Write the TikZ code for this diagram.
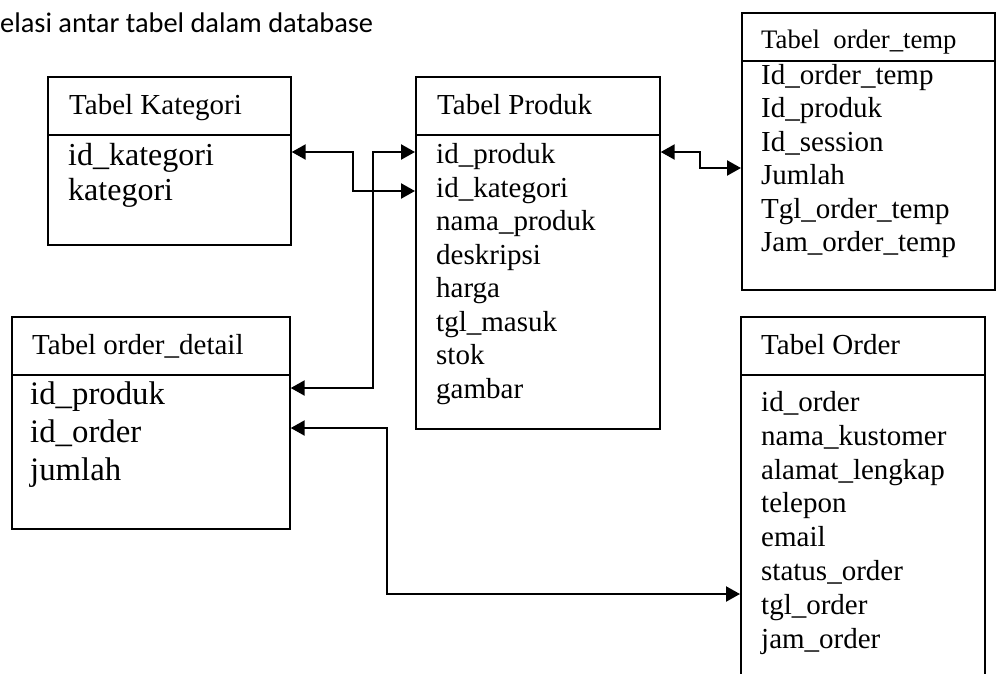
\documentclass[tikz,border=0pt]{standalone}
\usepackage{fontspec}
\setmainfont{Liberation Serif}
\newfontfamily\calibri{Carlito}
\usetikzlibrary{arrows.meta,positioning}

\tikzset{
  tabel/.style={draw=black, line width=1.7pt, anchor=north west, inner sep=0pt},
  judul/.style={anchor=base west, inner sep=0pt, font=\fontsize{29}{33}\selectfont},
  kolom/.style={anchor=base west, inner sep=0pt, font=\fontsize{29}{33}\selectfont},
  kolombesar/.style={kolom, font=\fontsize{32}{36}\selectfont},
  relasi/.style={line width=2.3pt, {Triangle[length=14pt,width=15pt]}-{Triangle[length=14pt,width=15pt]}},
}

\begin{document}
\begin{tikzpicture}[x=1pt, y=-1pt]
  \useasboundingbox (0,0) rectangle (998,673);

  \node (judul) [anchor=base west, inner sep=0pt, font=\calibri\fontsize{28.4}{33}\selectfont] at (0,32) {elasi antar tabel dalam database};

  % tabel kategori
  \node (kat) [tabel, minimum width=243, minimum height=168] at (47,76) {};
  \draw [line width=1.7pt] (kat.west |- 0,135) -- (kat.east |- 0,135);
  \node (kat-judul) [judul] at (69,114) {Tabel Kategori};
  \foreach \f [count=\i] in {id\_kategori, kategori}
    \node (kat-\i) [kolombesar] at (68,{165+35*(\i-1)}) {\f};

  % tabel produk
  \node (prod) [tabel, minimum width=244, minimum height=352] at (415,76) {};
  \draw [line width=1.7pt] (prod.west |- 0,135) -- (prod.east |- 0,135);
  \node (prod-judul) [judul] at (437,114) {Tabel Produk};
  \foreach \f [count=\i] in {id\_produk, id\_kategori, nama\_produk, deskripsi, harga, tgl\_masuk, stok, gambar}
    \node (prod-\i) [kolom] at (436,{163.5+33.5*(\i-1)}) {\f};

  % tabel order_temp
  \node (temp) [tabel, minimum width=253, minimum height=277] at (741,12) {};
  \draw [line width=1.7pt] (temp.west |- 0,61) -- (temp.east |- 0,61);
  \node (temp-judul) [judul, font=\fontsize{26.7}{32}\selectfont] at (761,48) {Tabel\ \ order\_temp};
  \foreach \f [count=\i] in {Id\_order\_temp, Id\_produk, Id\_session, Jumlah, Tgl\_order\_temp, Jam\_order\_temp}
    \node (temp-\i) [kolom] at (761,{84+33.5*(\i-1)}) {\f};

  % tabel order_detail
  \node (det) [tabel, minimum width=278, minimum height=212] at (11,316) {};
  \draw [line width=1.7pt] (det.west |- 0,375) -- (det.east |- 0,375);
  \node (det-judul) [judul] at (32,354) {Tabel order\_detail};
  \foreach \f [count=\i] in {id\_produk, id\_order, jumlah}
    \node (det-\i) [kolombesar, font=\fontsize{32.8}{38}\selectfont] at (30,{404+38*(\i-1)}) {\f};

  % tabel order (terpotong di bawah)
  \node (ord) [tabel, minimum width=244, minimum height=420] at (740,316) {};
  \draw [line width=1.7pt] (ord.west |- 0,375) -- (ord.east |- 0,375);
  \node (ord-judul) [judul] at (761,354) {Tabel Order};
  \foreach \f [count=\i] in {id\_order, nama\_kustomer, alamat\_lengkap, telepon, email, status\_order, tgl\_order, jam\_order}
    \node (ord-\i) [kolom] at (761,{411.5+33.8*(\i-1)}) {\f};

  % relasi
  \draw [relasi] (kat.east |- 0,152) -- (353,152) |- (prod.west |- 0,191);
  \draw [relasi] (det.east |- 0,388) -| (373,152) -- (prod.west |- 0,152);
  \draw [relasi] (prod.east |- 0,152) -- (700,152) |- (temp.west |- 0,168);
  \draw [relasi] (det.east |- 0,428) -- (387,428) |- (ord.west |- 0,594);
\end{tikzpicture}
\end{document}
